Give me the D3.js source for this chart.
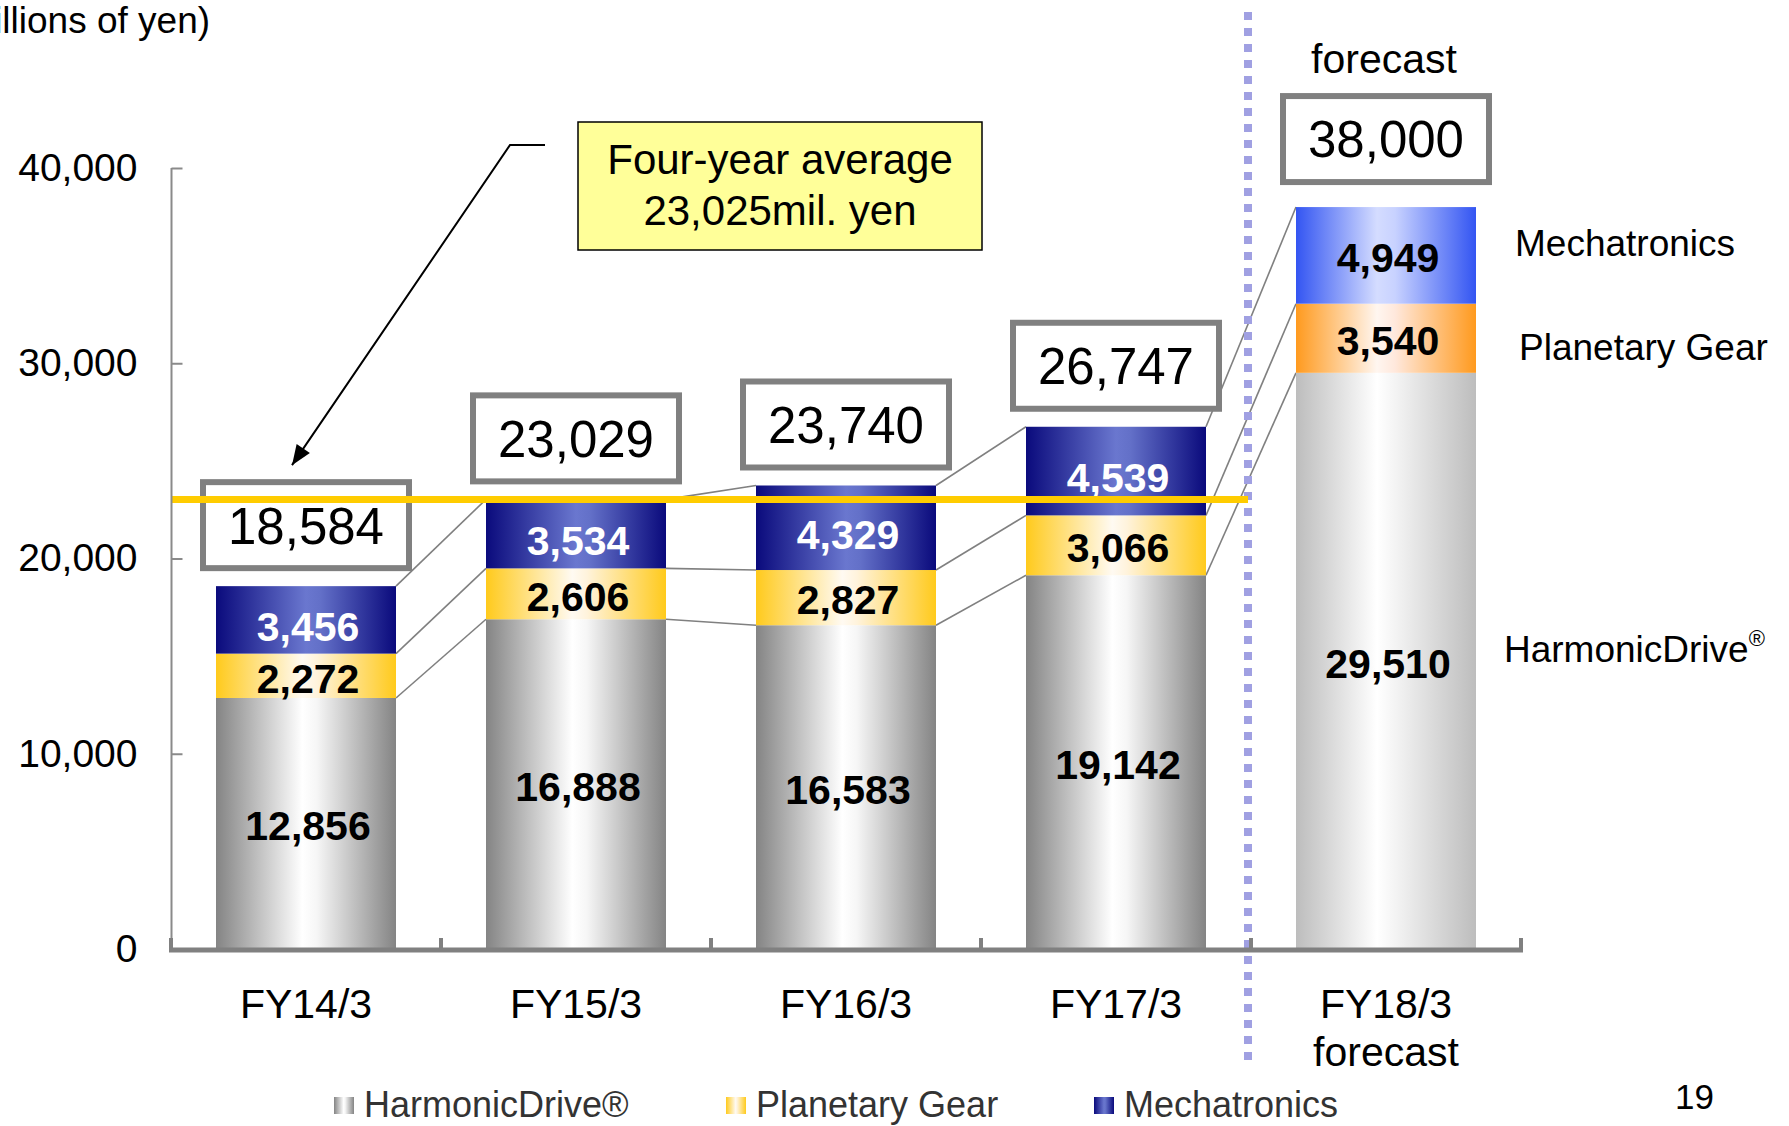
<!DOCTYPE html>
<html><head><meta charset="utf-8">
<script src="https://cdn.jsdelivr.net/npm/d3@7"></script>
<style>
body{margin:0;background:#fff;overflow:hidden;}
svg{display:block;font-family:"Liberation Sans",Arial,Helvetica,sans-serif;}
</style>
</head><body>
<svg id="chart" width="1789" height="1126"></svg>
<script>
// ---------------- data ----------------
const categories = ["FY14/3", "FY15/3", "FY16/3", "FY17/3", "FY18/3"];
const categorySubLabels = ["", "", "", "", "forecast"];
const isForecast = [false, false, false, false, true];
const harmonicDrive = [12856, 16888, 16583, 19142, 29510];
const planetaryGear = [2272, 2606, 2827, 3066, 3540];
const mechatronics = [3456, 3534, 4329, 4539, 4949];
const totalLabels = [18584, 23029, 23740, 26747, 38000];
const seriesKeys = ["hd", "pg", "mech"];
const seriesNames = ["HarmonicDrive®", "Planetary Gear", "Mechatronics"];
const yTickValues = [0, 10000, 20000, 30000, 40000];
const averageValue = 23025;
const averageTextLines = ["Four-year average", "23,025mil. yen"];
const unitLabel = "(millions of yen)";
const pageNumber = "19";

// ---------------- setup ----------------
const svg = d3.select("#chart");
const fmt = d3.format(",");
const rows = categories.map((c, i) => ({cat: c, hd: harmonicDrive[i], pg: planetaryGear[i], mech: mechatronics[i], fc: isForecast[i]}));

const x = d3.scaleBand().domain(categories).range([171, 1521]).paddingInner(1/3).paddingOuter(1/6);
const y = d3.scaleLinear().domain([0, 40000]).range([949, 168]);
const bw = x.bandwidth();
const step = x.step();
const gapHalf = (step - bw) / 2;

const stack = d3.stack().keys(seriesKeys);
const layers = stack(rows);

// gradients
const defs = svg.append("defs");
const gradSpec = {
  "hd-a":   [["0%", "#848484"], ["48%", "#ffffff"], ["56%", "#f6f6f6"], ["100%", "#848484"]],
  "pg-a":   [["0%", "#ffca1c"], ["48%", "#fffaf2"], ["56%", "#fff3dc"], ["100%", "#ffca1c"]],
  "mech-a": [["0%", "#0a0a7c"], ["50%", "#6a77cf"], ["58%", "#6370c8"], ["100%", "#0a0a7c"]],
  "hd-f":   [["0%", "#bdbdbd"], ["45%", "#ffffff"], ["55%", "#f4f4f4"], ["100%", "#bdbdbd"]],
  "pg-f":   [["0%", "#ff9a1e"], ["45%", "#fff6f0"], ["55%", "#ffe8dc"], ["100%", "#ff9a1e"]],
  "mech-f": [["0%", "#3355f2"], ["45%", "#d4dcff"], ["55%", "#c8d2ff"], ["100%", "#3355f2"]]
};
Object.entries(gradSpec).forEach(([id, stops]) => {
  const g = defs.append("linearGradient").attr("id", "g-" + id).attr("x1", "0%").attr("x2", "100%").attr("y1", "0%").attr("y2", "0%");
  stops.forEach(s => g.append("stop").attr("offset", s[0]).attr("stop-color", s[1]));
});

// ---------------- series connector lines ----------------
const connG = svg.append("g");
layers.forEach(layer => {
  for (let i = 0; i < layer.length - 1; i++) {
    connG.append("line")
      .attr("x1", x(categories[i]) + bw).attr("y1", y(layer[i][1]))
      .attr("x2", x(categories[i + 1])).attr("y2", y(layer[i + 1][1]))
      .attr("stroke", "#808080").attr("stroke-width", 1.6);
  }
});

// ---------------- bars ----------------
const barsG = svg.append("g");
layers.forEach(layer => {
  barsG.selectAll(null).data(layer).enter().append("rect")
    .attr("x", d => x(d.data.cat))
    .attr("y", d => y(d[1]))
    .attr("width", bw)
    .attr("height", d => y(d[0]) - y(d[1]))
    .attr("fill", d => `url(#g-${layer.key}-${d.data.fc ? "f" : "a"})`);
});

// value labels
const valG = svg.append("g").attr("font-weight", "bold").attr("font-size", 41).attr("text-anchor", "middle");
layers.forEach(layer => {
  valG.selectAll(null).data(layer).enter().append("text")
    .attr("x", d => x(d.data.cat) + bw / 2 + 2)
    .attr("y", d => (y(d[0]) + y(d[1])) / 2 + (layer.key === "mech" && !d.data.fc ? 6 : 2))
    .attr("dy", "0.36em")
    .attr("fill", d => (layer.key === "mech" && !d.data.fc) ? "#ffffff" : "#000000")
    .text(d => fmt(d[1] - d[0]));
});

// ---------------- total boxes ----------------
const boxW = 206, boxH = 86;
const topLayer = layers[layers.length - 1];
const boxGap = i => isForecast[i] ? 25 : 18;
const boxG = svg.append("g");
topLayer.forEach((d, i) => {
  const cx = x(categories[i]) + bw / 2;
  const bottom = y(d[1]) - boxGap(i);
  boxG.append("rect").attr("x", cx - boxW / 2).attr("y", bottom - boxH)
    .attr("width", boxW).attr("height", boxH)
    .attr("fill", "#fff").attr("stroke", "#808080").attr("stroke-width", 6);
  boxG.append("text").attr("x", cx).attr("y", bottom - boxH / 2).attr("dy", "0.36em")
    .attr("text-anchor", "middle").attr("font-size", 51).attr("fill", "#000")
    .text(fmt(totalLabels[i]));
  if (isForecast[i]) {
    boxG.append("text").attr("x", cx - 2).attr("y", bottom - boxH - 38).attr("dy", "0.36em")
      .attr("text-anchor", "middle").attr("font-size", 41).attr("fill", "#000").text("forecast");
  }
});

// ---------------- separator dotted line ----------------
const sepX = x(categories[categories.length - 1]) - gapHalf - 3;
svg.append("line").attr("x1", sepX).attr("x2", sepX).attr("y1", 12).attr("y2", 1068)
  .attr("stroke", "#a0a0e2").attr("stroke-width", 8).attr("stroke-dasharray", "8,8");

// ---------------- average line ----------------
svg.append("line").attr("x1", 171).attr("x2", sepX).attr("y1", y(averageValue)).attr("y2", y(averageValue))
  .attr("stroke", "#ffcc00").attr("stroke-width", 7);

// ---------------- axes ----------------
const yAxis = d3.axisLeft(y).tickValues(yTickValues).tickFormat(fmt).tickSize(-11).tickPadding(34);
const yAxisG = svg.append("g").attr("transform", "translate(171.5,0)").call(yAxis);
yAxisG.select(".domain").attr("stroke", "#8a8a8a").attr("stroke-width", 2).attr("d", `M0,${y(40000)}V${y(0)}`);
yAxisG.selectAll(".tick line").attr("stroke", "#8a8a8a").attr("stroke-width", 2);
yAxisG.selectAll(".tick text").attr("font-size", 39).attr("fill", "#000").attr("font-family", "'Liberation Sans',Arial,sans-serif");

// x axis
const xAxisY = 950;
const xAxis = d3.axisBottom(x).tickSize(0).tickPadding(40);
const xAxisG = svg.append("g").attr("transform", `translate(0,${xAxisY})`).call(xAxis);
xAxisG.select(".domain").remove();
xAxisG.selectAll(".tick text").remove();
xAxisG.selectAll(".tick").each(function(d, i) {
  const t = d3.select(this).append("text").attr("text-anchor", "middle").attr("font-size", 41).attr("fill", "#000")
    .attr("font-family", "'Liberation Sans',Arial,sans-serif").attr("y", 53).attr("dy", "0.36em");
  t.append("tspan").attr("x", 0).text(categories[i]);
  if (categorySubLabels[i]) t.append("tspan").attr("x", 0).attr("dy", "1.17em").text(categorySubLabels[i]);
});
svg.append("line").attr("x1", 169).attr("x2", 1523).attr("y1", xAxisY).attr("y2", xAxisY)
  .attr("stroke", "#808080").attr("stroke-width", 5);
const boundaries = categories.map(c => x(c) - gapHalf).concat([x(categories[categories.length - 1]) + bw + gapHalf]);
svg.append("g").selectAll("rect").data(boundaries).enter().append("rect")
  .attr("x", d => d - 2).attr("y", xAxisY - 12).attr("width", 4).attr("height", 12).attr("fill", "#808080");

// ---------------- annotation ----------------
svg.append("text").attr("x", -49).attr("y", 33).attr("font-size", 37).attr("fill", "#000").text(unitLabel);

svg.append("rect").attr("x", 578).attr("y", 122).attr("width", 404).attr("height", 128)
  .attr("fill", "#ffff99").attr("stroke", "#000").attr("stroke-width", 1.5);
averageTextLines.forEach((t, i) => {
  svg.append("text").attr("x", 780).attr("y", 159 + i * 51).attr("dy", "0.36em").attr("text-anchor", "middle")
    .attr("font-size", 42).attr("fill", "#000").text(t);
});

// arrow pointing to first total box
const firstBoxTop = y(topLayer[0][1]) - boxGap(0) - boxH;
const tip = [x(categories[0]) + bw / 2 - 14, firstBoxTop - 17];
const elbow = [510, 145];
svg.append("path").attr("d", `M545,145L${elbow[0]},${elbow[1]}L${tip[0]},${tip[1]}`)
  .attr("fill", "none").attr("stroke", "#000").attr("stroke-width", 2);
(function() {
  const dx = tip[0] - elbow[0], dy = tip[1] - elbow[1];
  const len = Math.hypot(dx, dy), ux = dx / len, uy = dy / len;
  const hl = 20, hw = 8;
  const bx = tip[0] - ux * hl, by = tip[1] - uy * hl;
  svg.append("path").attr("d", `M${tip[0]},${tip[1]}L${bx - uy * hw},${by + ux * hw}L${bx + uy * hw},${by - ux * hw}Z`).attr("fill", "#000");
})();

// right-side series labels (aligned with forecast segments)
const lastIdx = categories.length - 1;
const rightX = [1504, 1519, 1515];
layers.forEach((layer, k) => {
  const d = layer[lastIdx];
  const cy = (y(d[0]) + y(d[1])) / 2 + [-12, 8, -13][k];
  const t = svg.append("text").attr("x", rightX[k]).attr("y", cy).attr("dy", "0.36em").attr("font-size", 37).attr("fill", "#000");
  if (seriesKeys[k] === "hd") {
    t.append("tspan").text("HarmonicDrive");
    t.append("tspan").attr("font-size", 22).attr("dy", "-0.75em").text("®");
  } else {
    t.text(seriesNames[k]);
  }
});

// legend
const legendX = [334, 726, 1094];
const legendG = svg.append("g");
seriesKeys.forEach((k, i) => {
  legendG.append("rect").attr("x", legendX[i]).attr("y", 1097).attr("width", 20).attr("height", 17).attr("fill", `url(#g-${k}-a)`);
  legendG.append("text").attr("x", legendX[i] + 30).attr("y", 1117).attr("font-size", 36).attr("fill", "#333").text(seriesNames[i]);
});

// page number
svg.append("text").attr("x", 1714).attr("y", 1109).attr("text-anchor", "end").attr("font-size", 35).attr("fill", "#000").text(pageNumber);
</script>
</body></html>
